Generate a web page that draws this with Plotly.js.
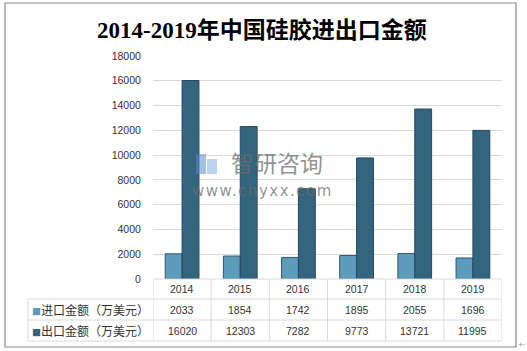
<!DOCTYPE html>
<html>
<head>
<meta charset="utf-8">
<script src="https://cdn.plot.ly/plotly-3.0.1.min.js"></script>
<style>html,body{margin:0;padding:0;background:#fff;}#chart{width:527px;height:351px;}</style>
</head>
<body>
<div id="chart"></div>
<script>
const years = ['2014', '2015', '2016', '2017', '2018', '2019'];
const importVals = [2033, 1854, 1742, 1895, 2055, 1696];
const exportVals = [16020, 12303, 7282, 9773, 13721, 11995];
const seriesNames = ['进口金额（万美元）', '出口金额（万美元）'];
const seriesColors = ['#5d9cbb', '#33657f'];
const yTicks = [0, 2000, 4000, 6000, 8000, 10000, 12000, 14000, 16000, 18000];
const titleText = '2014-2019年中国硅胶进出口金额';

// pixel geometry helpers (plot area: x 153..502, y 56..279)
const L = 153, R = 502, T = 56, B = 279;
const px = X => (X - L) / (R - L);
const py = Y => (B - Y) / (B - T);

const traces = [
  {type: 'bar', name: seriesNames[0], x: years, y: importVals,
   marker: {color: seriesColors[0], line: {color: '#2f5870', width: 1}}, hoverinfo: 'none'},
  {type: 'bar', name: seriesNames[1], x: years, y: exportVals,
   marker: {color: seriesColors[1], line: {color: '#24485e', width: 1}}, hoverinfo: 'none'}
];

const mkFont = () => ({family: 'Liberation Sans, Arial, sans-serif', size: 10.5, color: '#333'});
const annotations = [];
const shapes = [];
const rowY = [py(289), py(309.5), py(330.5)];
const cell = (x, y, text) => ({x: x, y: y, xref: 'x', yref: 'paper', xanchor: 'center', yanchor: 'middle',
  text: text, showarrow: false, font: mkFont()});
years.forEach((yr, i) => {
  annotations.push(cell(i, rowY[0], yr));
  annotations.push(cell(i, rowY[1], String(importVals[i])));
  annotations.push(cell(i, rowY[2], String(exportVals[i])));
});
seriesNames.forEach((nm, k) => {
  annotations.push({x: px(30), y: rowY[k + 1], xref: 'paper', yref: 'paper', xanchor: 'left', yanchor: 'middle',
    text: '<span style="font-size:9px;color:' + seriesColors[k] + '">■</span>' + nm,
    showarrow: false, font: {family: 'Noto Sans CJK SC, sans-serif', size: 12, color: '#333'}});
});
// watermark
annotations.push({x: px(277), y: py(162), xref: 'paper', yref: 'paper', xanchor: 'center', yanchor: 'middle',
  text: '智研咨询', showarrow: false,
  font: {family: 'Noto Sans CJK SC, sans-serif', size: 23, color: 'rgba(110,110,110,0.75)'}});
annotations.push({x: px(262), y: py(191), xref: 'paper', yref: 'paper', xanchor: 'center', yanchor: 'middle',
  text: '<span style="letter-spacing:1.5px">www.chyxx.com</span>', showarrow: false,
  font: {family: 'DejaVu Sans, sans-serif', size: 15, color: 'rgba(110,110,110,0.75)'}});
annotations.push({x: px(522), y: py(344), xref: 'paper', yref: 'paper', xanchor: 'center', yanchor: 'middle',
  text: '←', showarrow: false, font: {family: 'DejaVu Sans', size: 8, color: '#999'}});
shapes.push({type: 'rect', xref: 'paper', yref: 'paper', x0: px(196), x1: px(206), y0: py(174), y1: py(154),
  fillcolor: 'rgba(90,140,200,0.55)', line: {width: 0}});
shapes.push({type: 'rect', xref: 'paper', yref: 'paper', x0: px(207), x1: px(217), y0: py(174), y1: py(159),
  fillcolor: 'rgba(120,170,220,0.5)', line: {width: 0}});

// table lines
const lc = '#d9d9d9';
shapes.push({type: 'line', xref: 'paper', yref: 'paper', x0: 0, x1: 1, y0: py(279), y1: py(279), line: {color: lc, width: 1}});
[299, 320, 341].forEach(Y => shapes.push({type: 'line', xref: 'paper', yref: 'paper', x0: px(28), x1: 1, y0: py(Y), y1: py(Y), line: {color: lc, width: 1}}));
shapes.push({type: 'line', xref: 'paper', yref: 'paper', x0: px(28), x1: px(28), y0: py(299), y1: py(341), line: {color: lc, width: 1}});
for (let i = 0; i <= years.length; i++) {
  shapes.push({type: 'line', xref: 'x', yref: 'paper', x0: i - 0.5, x1: i - 0.5, y0: py(279), y1: py(341), line: {color: lc, width: 1}});
}
// outer frame
shapes.push({type: 'rect', xref: 'paper', yref: 'paper', x0: px(5), x1: px(516), y0: py(347), y1: py(3),
  line: {color: '#888', width: 1.2}, fillcolor: 'rgba(0,0,0,0)'});

const layout = {
  width: 527, height: 351,
  margin: {l: L, r: 527 - R, t: T, b: 351 - B, pad: 0},
  paper_bgcolor: '#fff', plot_bgcolor: '#fff',
  showlegend: false,
  barmode: 'group', bargap: 0.42, bargroupgap: 0,
  title: {text: titleText, x: 0.497, xanchor: 'center', y: 1 - 30 / 351, yanchor: 'middle',
    font: {family: 'Liberation Serif, Noto Sans CJK SC, serif', size: 23, color: '#000', weight: 'bold'}},
  xaxis: {type: 'category', range: [-0.5, 5.5], showticklabels: false, showgrid: false, zeroline: false, showline: false, ticks: '', fixedrange: true},
  yaxis: {range: [0, 18000], tickvals: yTicks, ticktext: yTicks.map(String), showgrid: true, gridcolor: '#d9d9d9', gridwidth: 1,
    zeroline: false, showline: false, ticks: 'outside', ticklen: 9, tickcolor: 'rgba(0,0,0,0)', tickfont: mkFont(), fixedrange: true},
  annotations: annotations,
  shapes: shapes
};
Plotly.newPlot('chart', traces, layout, {staticPlot: true});
</script>
</body>
</html>
